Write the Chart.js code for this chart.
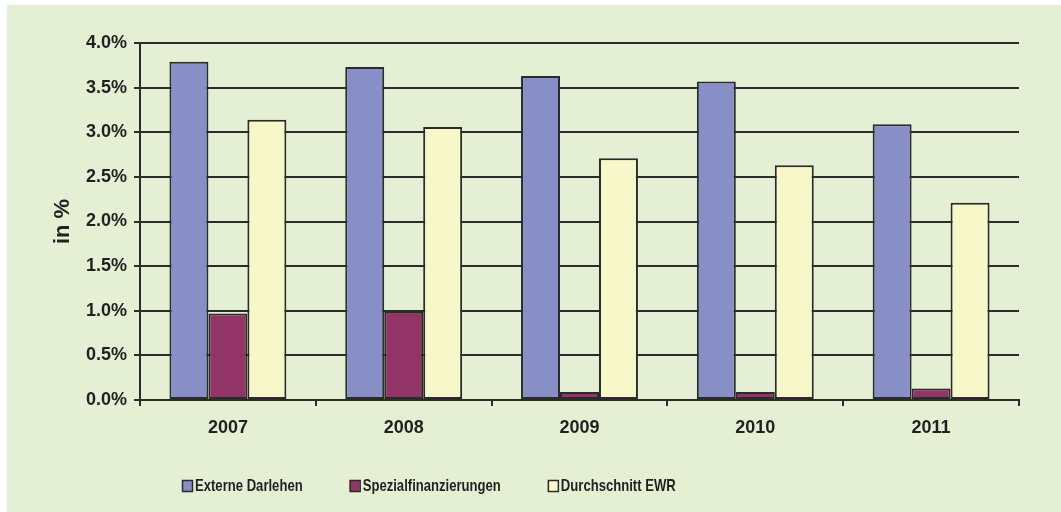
<!DOCTYPE html>
<html><head><meta charset="utf-8">
<script src="https://cdn.jsdelivr.net/npm/chart.js@4/dist/chart.umd.min.js"></script>
<style>
html,body{margin:0;padding:0;background:#fff;}
#wrap{position:absolute;left:7px;top:5px;width:1054px;height:507px;background:#E4EFD4;}
canvas{display:block}
</style></head><body>
<div id="wrap"><canvas id="c" width="1054" height="507"></canvas></div>
<script>
const categories = ['2007','2008','2009','2010','2011'];
const seriesNames = ['Externe Darlehen','Spezialfinanzierungen','Durchschnitt EWR'];
const externeDarlehen = [3.79,3.73,3.63,3.57,3.09];
const spezialfinanzierungen = [0.97,0.99,0.09,0.09,0.13];
const durchschnittEWR = [3.14,3.06,2.71,2.63,2.21];
const yTickLabels = ['0.0%','0.5%','1.0%','1.5%','2.0%','2.5%','3.0%','3.5%','4.0%'];
const yAxisTitle = 'in %';

const colors = ['#888FC7','#933467','#F7F7C9'];
const ink = '#231F20';
const lineCol = '#2b2b2b';
const fam = '"Liberation Sans", Arial, sans-serif';

const legendPlugin = {
  id: 'customLegend',
  afterDraw(chart) {
    const ctx = chart.ctx;
    ctx.save();
    ctx.font = 'bold 17px "Liberation Sans Narrow", monospace';
    const w1 = ctx.measureText('Externe Darlehen').width;
    ctx.font = 'bold 17px monospace';
    const w2 = ctx.measureText('Externe Darlehen').width;
    const hasNarrow = Math.abs(w1 - w2) > 0.5;
    const font = hasNarrow ? 'bold 17px "Liberation Sans Narrow"' : 'bold 17px "Liberation Sans", Arial';
    const sx = hasNarrow ? 0.94 : 0.77;
    ctx.font = font;
    let x = 175;
    const boxY = 475, boxW = 10, boxH = 11, baseY = 486;
    chart.data.datasets.forEach((ds) => {
      ctx.fillStyle = ds.backgroundColor;
      ctx.fillRect(x, boxY, boxW, boxH);
      ctx.strokeStyle = lineCol;
      ctx.lineWidth = 1.5;
      ctx.strokeRect(x + 0.5, boxY + 0.5, boxW, boxH);
      const tx = x + 13;
      const tw = ctx.measureText(ds.label).width * sx;
      ctx.fillStyle = ink;
      ctx.textBaseline = 'alphabetic';
      ctx.save();
      ctx.translate(tx, baseY);
      ctx.scale(sx, 1);
      ctx.fillText(ds.label, 0, 0);
      ctx.restore();
      x = tx + tw + 47;
    });
    ctx.restore();
  }
};

new Chart(document.getElementById('c'), {
  type: 'bar',
  data: {
    labels: categories,
    datasets: [
      {label: seriesNames[0], data: externeDarlehen, backgroundColor: colors[0]},
      {label: seriesNames[1], data: spezialfinanzierungen, backgroundColor: colors[1]},
      {label: seriesNames[2], data: durchschnittEWR, backgroundColor: colors[2]}
    ].map(d => Object.assign(d, {borderColor: lineCol, borderWidth: 2, borderSkipped: false, categoryPercentage: 0.665, barPercentage: 1.0}))
  },
  options: {
    responsive: false,
    animation: false,
    devicePixelRatio: 1,
    layout: {padding: {left: 0, right: 42, top: 38, bottom: 72}},
    plugins: {legend: {display: false}, tooltip: {enabled: false}},
    scales: {
      x: {
        grid: {drawOnChartArea: false, offset: true, tickLength: 6, color: lineCol, lineWidth: 2},
        border: {color: lineCol, width: 2},
        ticks: {font: {family: fam, size: 18, weight: 'bold'}, color: ink, padding: 11},
        afterFit(s) { s.height = 40; }
      },
      y: {
        min: 0, max: 4,
        ticks: {stepSize: 0.5, callback: (v, i) => yTickLabels[i], padding: 7,
                font: {family: fam, size: 18, weight: 'bold'}, color: ink},
        grid: {color: lineCol, lineWidth: 2, tickLength: 6},
        border: {color: lineCol, width: 2},
        title: {display: true, text: yAxisTitle, color: ink,
                font: {family: fam, size: 22, weight: 'bold'}, padding: {top: 43, bottom: 0}},
        afterFit(s) { s.width = 133; }
      }
    }
  },
  plugins: [legendPlugin]
});
</script>
</body></html>
